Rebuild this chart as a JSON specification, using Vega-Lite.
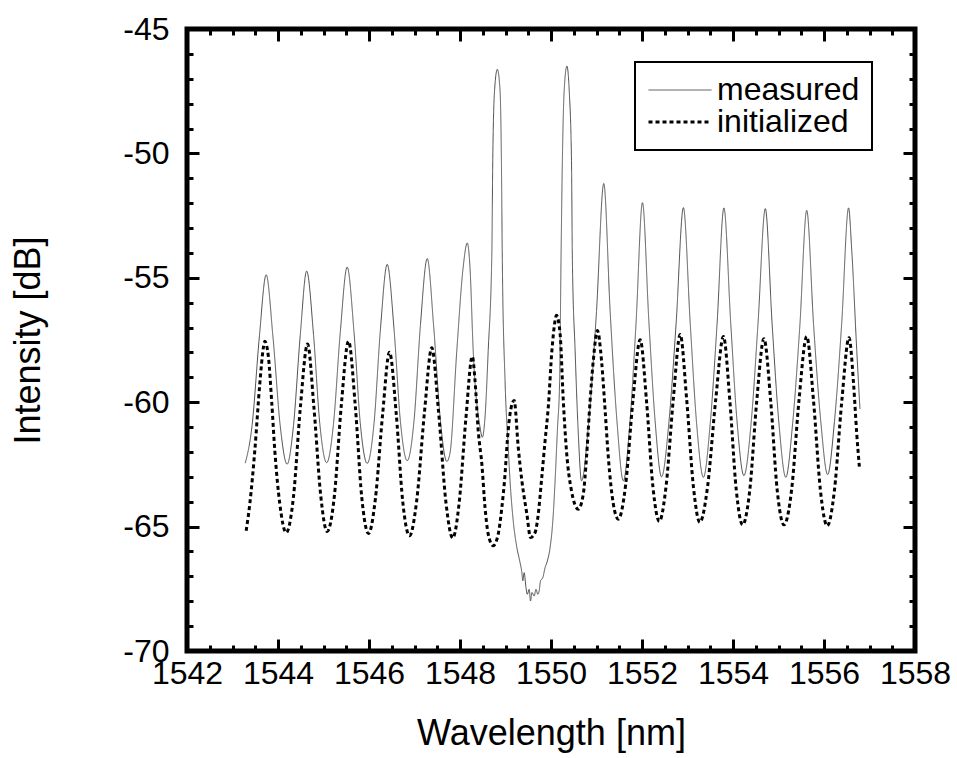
{
  "$schema": "https://vega.github.io/schema/vega-lite/v6.json",
  "width": 728,
  "height": 622,
  "autosize": {"type": "none"},
  "padding": {"left": 187, "top": 29, "right": 42, "bottom": 107},
  "background": "white",
  "datasets": {
    "m": [
      {"s":"measured","x":1543.28,"y":-62.45},{"s":"measured","x":1543.43,"y":-60.94},{"s":"measured","x":1543.59,"y":-57.38},{"s":"measured","x":1543.74,"y":-54.88},
      {"s":"measured","x":1543.89,"y":-57.39},{"s":"measured","x":1544.05,"y":-60.97},{"s":"measured","x":1544.20,"y":-62.49},{"s":"measured","x":1544.34,"y":-60.94},
      {"s":"measured","x":1544.49,"y":-57.29},{"s":"measured","x":1544.63,"y":-54.73},{"s":"measured","x":1544.78,"y":-57.27},{"s":"measured","x":1544.92,"y":-60.89},
      {"s":"measured","x":1545.07,"y":-62.43},{"s":"measured","x":1545.22,"y":-60.86},{"s":"measured","x":1545.37,"y":-57.16},{"s":"measured","x":1545.52,"y":-54.57},
      {"s":"measured","x":1545.67,"y":-57.17},{"s":"measured","x":1545.81,"y":-60.88},{"s":"measured","x":1545.96,"y":-62.46},{"s":"measured","x":1546.11,"y":-60.86},
      {"s":"measured","x":1546.25,"y":-57.10},{"s":"measured","x":1546.40,"y":-54.46},{"s":"measured","x":1546.55,"y":-57.06},{"s":"measured","x":1546.69,"y":-60.77},
      {"s":"measured","x":1546.84,"y":-62.35},{"s":"measured","x":1546.99,"y":-60.73},{"s":"measured","x":1547.13,"y":-56.91},{"s":"measured","x":1547.28,"y":-54.23},
      {"s":"measured","x":1547.42,"y":-56.92},{"s":"measured","x":1547.57,"y":-60.75},{"s":"measured","x":1547.71,"y":-62.38},{"s":"measured","x":1547.78,"y":-62.05},
      {"s":"measured","x":1547.93,"y":-57.92},{"s":"measured","x":1548.07,"y":-54.57},{"s":"measured","x":1548.16,"y":-53.6},{"s":"measured","x":1548.22,"y":-54.6},
      {"s":"measured","x":1548.29,"y":-57.92},{"s":"measured","x":1548.44,"y":-61.0},{"s":"measured","x":1548.49,"y":-61.41},{"s":"measured","x":1548.55,"y":-60.6},
      {"s":"measured","x":1548.62,"y":-57.92},{"s":"measured","x":1548.70,"y":-54.0},{"s":"measured","x":1548.72,"y":-50.27},{"s":"measured","x":1548.76,"y":-47.46},
      {"s":"measured","x":1548.82,"y":-46.62},{"s":"measured","x":1548.88,"y":-47.46},{"s":"measured","x":1548.91,"y":-50.27},{"s":"measured","x":1548.93,"y":-54.3},
      {"s":"measured","x":1548.99,"y":-59.13},{"s":"measured","x":1549.06,"y":-61.82},{"s":"measured","x":1549.10,"y":-63.16},{"s":"measured","x":1549.17,"y":-64.77},
      {"s":"measured","x":1549.25,"y":-65.84},{"s":"measured","x":1549.32,"y":-66.45},{"s":"measured","x":1549.36,"y":-66.85},{"s":"measured","x":1549.38,"y":-67.18},
      {"s":"measured","x":1549.41,"y":-66.85},{"s":"measured","x":1549.45,"y":-67.45},{"s":"measured","x":1549.48,"y":-67.72},{"s":"measured","x":1549.52,"y":-67.52},
      {"s":"measured","x":1549.55,"y":-67.99},{"s":"measured","x":1549.58,"y":-67.65},{"s":"measured","x":1549.63,"y":-67.79},{"s":"measured","x":1549.67,"y":-67.52},
      {"s":"measured","x":1549.71,"y":-67.72},{"s":"measured","x":1549.74,"y":-67.58},{"s":"measured","x":1549.77,"y":-67.18},{"s":"measured","x":1549.82,"y":-67.05},
      {"s":"measured","x":1549.87,"y":-66.65},{"s":"measured","x":1549.92,"y":-66.38},{"s":"measured","x":1549.98,"y":-65.84},{"s":"measured","x":1550.04,"y":-64.77},
      {"s":"measured","x":1550.09,"y":-63.16},{"s":"measured","x":1550.14,"y":-61.14},{"s":"measured","x":1550.19,"y":-59.13},{"s":"measured","x":1550.22,"y":-54.3},
      {"s":"measured","x":1550.25,"y":-50.27},{"s":"measured","x":1550.29,"y":-47.46},{"s":"measured","x":1550.35,"y":-46.49},{"s":"measured","x":1550.40,"y":-47.46},
      {"s":"measured","x":1550.45,"y":-50.27},{"s":"measured","x":1550.47,"y":-54.3},{"s":"measured","x":1550.53,"y":-57.92},{"s":"measured","x":1550.60,"y":-61.26},
      {"s":"measured","x":1550.67,"y":-63.16},{"s":"measured","x":1550.83,"y":-60.77},{"s":"measured","x":1551.00,"y":-56.35},{"s":"measured","x":1551.16,"y":-51.21},
      {"s":"measured","x":1551.30,"y":-56.35},{"s":"measured","x":1551.45,"y":-60.77},{"s":"measured","x":1551.59,"y":-63.16},{"s":"measured","x":1551.73,"y":-60.92},
      {"s":"measured","x":1551.87,"y":-56.79},{"s":"measured","x":1552.01,"y":-51.98},{"s":"measured","x":1552.15,"y":-56.72},{"s":"measured","x":1552.29,"y":-60.80},
      {"s":"measured","x":1552.43,"y":-63.0},{"s":"measured","x":1552.59,"y":-60.84},{"s":"measured","x":1552.75,"y":-56.83},{"s":"measured","x":1552.91,"y":-52.18},
      {"s":"measured","x":1553.06,"y":-56.84},{"s":"measured","x":1553.20,"y":-60.85},{"s":"measured","x":1553.35,"y":-63.02},{"s":"measured","x":1553.50,"y":-60.85},
      {"s":"measured","x":1553.65,"y":-56.85},{"s":"measured","x":1553.80,"y":-52.19},{"s":"measured","x":1553.95,"y":-56.82},{"s":"measured","x":1554.09,"y":-60.80},
      {"s":"measured","x":1554.24,"y":-62.95},{"s":"measured","x":1554.40,"y":-60.80},{"s":"measured","x":1554.55,"y":-56.83},{"s":"measured","x":1554.71,"y":-52.22},
      {"s":"measured","x":1554.86,"y":-56.86},{"s":"measured","x":1555.01,"y":-60.86},{"s":"measured","x":1555.16,"y":-63.02},{"s":"measured","x":1555.31,"y":-60.87},
      {"s":"measured","x":1555.47,"y":-56.90},{"s":"measured","x":1555.62,"y":-52.29},{"s":"measured","x":1555.77,"y":-56.86},{"s":"measured","x":1555.93,"y":-60.79},
      {"s":"measured","x":1556.08,"y":-62.91},{"s":"measured","x":1556.23,"y":-60.77},{"s":"measured","x":1556.39,"y":-56.80},{"s":"measured","x":1556.54,"y":-52.19},
      {"s":"measured","x":1556.61,"y":-53.9},{"s":"measured","x":1556.72,"y":-57.92},{"s":"measured","x":1556.79,"y":-60.27}
    ],
    "i": [
      {"s":"initialized","x":1543.30,"y":-65.17},{"s":"initialized","x":1543.38,"y":-64.09},{"s":"initialized","x":1543.49,"y":-61.95},{"s":"initialized","x":1543.60,"y":-59.26},
      {"s":"initialized","x":1543.68,"y":-57.79},{"s":"initialized","x":1543.71,"y":-57.55},{"s":"initialized","x":1543.79,"y":-58.19},{"s":"initialized","x":1543.86,"y":-59.94},
      {"s":"initialized","x":1543.93,"y":-61.95},{"s":"initialized","x":1544.04,"y":-64.09},{"s":"initialized","x":1544.18,"y":-65.24},{"s":"initialized","x":1544.34,"y":-63.80},
      {"s":"initialized","x":1544.49,"y":-60.24},{"s":"initialized","x":1544.65,"y":-57.66},{"s":"initialized","x":1544.79,"y":-60.22},{"s":"initialized","x":1544.94,"y":-63.77},
      {"s":"initialized","x":1545.08,"y":-65.20},{"s":"initialized","x":1545.24,"y":-63.75},{"s":"initialized","x":1545.39,"y":-60.15},{"s":"initialized","x":1545.55,"y":-57.55},
      {"s":"initialized","x":1545.70,"y":-60.18},{"s":"initialized","x":1545.84,"y":-63.81},{"s":"initialized","x":1545.99,"y":-65.28},{"s":"initialized","x":1546.14,"y":-63.89},
      {"s":"initialized","x":1546.30,"y":-60.47},{"s":"initialized","x":1546.45,"y":-57.99},{"s":"initialized","x":1546.60,"y":-60.50},{"s":"initialized","x":1546.74,"y":-63.97},
      {"s":"initialized","x":1546.89,"y":-65.37},{"s":"initialized","x":1547.05,"y":-63.93},{"s":"initialized","x":1547.22,"y":-60.38},{"s":"initialized","x":1547.38,"y":-57.81},
      {"s":"initialized","x":1547.53,"y":-60.41},{"s":"initialized","x":1547.69,"y":-64.01},{"s":"initialized","x":1547.84,"y":-65.46},{"s":"initialized","x":1547.98,"y":-64.07},
      {"s":"initialized","x":1548.13,"y":-60.64},{"s":"initialized","x":1548.27,"y":-58.16},{"s":"initialized","x":1548.33,"y":-59.13},{"s":"initialized","x":1548.40,"y":-61.14},
      {"s":"initialized","x":1548.48,"y":-62.48},{"s":"initialized","x":1548.55,"y":-64.23},{"s":"initialized","x":1548.62,"y":-65.30},{"s":"initialized","x":1548.73,"y":-65.77},
      {"s":"initialized","x":1548.84,"y":-65.30},{"s":"initialized","x":1548.92,"y":-64.23},{"s":"initialized","x":1548.99,"y":-62.89},{"s":"initialized","x":1549.04,"y":-61.55},
      {"s":"initialized","x":1549.10,"y":-60.47},{"s":"initialized","x":1549.19,"y":-59.93},{"s":"initialized","x":1549.28,"y":-61.82},{"s":"initialized","x":1549.36,"y":-63.16},
      {"s":"initialized","x":1549.47,"y":-64.50},{"s":"initialized","x":1549.55,"y":-65.44},{"s":"initialized","x":1549.65,"y":-65.24},{"s":"initialized","x":1549.72,"y":-64.50},
      {"s":"initialized","x":1549.79,"y":-63.16},{"s":"initialized","x":1549.87,"y":-61.55},{"s":"initialized","x":1549.94,"y":-60.2},{"s":"initialized","x":1550.02,"y":-57.92},
      {"s":"initialized","x":1550.09,"y":-56.72},{"s":"initialized","x":1550.12,"y":-56.51},{"s":"initialized","x":1550.20,"y":-57.25},{"s":"initialized","x":1550.27,"y":-59.93},
      {"s":"initialized","x":1550.34,"y":-61.95},{"s":"initialized","x":1550.45,"y":-63.56},{"s":"initialized","x":1550.60,"y":-64.30},{"s":"initialized","x":1550.71,"y":-63.69},
      {"s":"initialized","x":1550.78,"y":-62.22},{"s":"initialized","x":1550.86,"y":-59.93},{"s":"initialized","x":1550.93,"y":-58.32},{"s":"initialized","x":1551.02,"y":-57.12},
      {"s":"initialized","x":1551.11,"y":-58.32},{"s":"initialized","x":1551.19,"y":-60.34},{"s":"initialized","x":1551.26,"y":-62.22},{"s":"initialized","x":1551.37,"y":-64.09},
      {"s":"initialized","x":1551.48,"y":-64.70},{"s":"initialized","x":1551.64,"y":-63.33},{"s":"initialized","x":1551.80,"y":-59.94},{"s":"initialized","x":1551.96,"y":-57.49},
      {"s":"initialized","x":1552.10,"y":-59.97},{"s":"initialized","x":1552.24,"y":-63.40},{"s":"initialized","x":1552.38,"y":-64.79},{"s":"initialized","x":1552.53,"y":-63.36},
      {"s":"initialized","x":1552.69,"y":-59.83},{"s":"initialized","x":1552.84,"y":-57.28},{"s":"initialized","x":1552.98,"y":-59.85},{"s":"initialized","x":1553.13,"y":-63.40},
      {"s":"initialized","x":1553.27,"y":-64.83},{"s":"initialized","x":1553.44,"y":-63.41},{"s":"initialized","x":1553.62,"y":-59.90},{"s":"initialized","x":1553.79,"y":-57.36},
      {"s":"initialized","x":1553.93,"y":-59.93},{"s":"initialized","x":1554.07,"y":-63.49},{"s":"initialized","x":1554.21,"y":-64.93},{"s":"initialized","x":1554.37,"y":-63.51},
      {"s":"initialized","x":1554.52,"y":-59.99},{"s":"initialized","x":1554.68,"y":-57.45},{"s":"initialized","x":1554.83,"y":-59.99},{"s":"initialized","x":1554.97,"y":-63.51},
      {"s":"initialized","x":1555.12,"y":-64.93},{"s":"initialized","x":1555.29,"y":-63.49},{"s":"initialized","x":1555.45,"y":-59.93},{"s":"initialized","x":1555.62,"y":-57.36},
      {"s":"initialized","x":1555.77,"y":-59.95},{"s":"initialized","x":1555.92,"y":-63.52},{"s":"initialized","x":1556.07,"y":-64.97},{"s":"initialized","x":1556.23,"y":-63.53},
      {"s":"initialized","x":1556.39,"y":-59.98},{"s":"initialized","x":1556.55,"y":-57.41},{"s":"initialized","x":1556.65,"y":-59.26},{"s":"initialized","x":1556.72,"y":-61.28},
      {"s":"initialized","x":1556.78,"y":-62.65}
    ]
  },
  "encoding": {
    "color": {
      "field": "s", "type": "nominal",
      "scale": {"domain": ["measured", "initialized"], "range": ["#505050", "#000000"]},
      "legend": {
        "orient": "none", "legendX": 448, "legendY": 33, "title": null,
        "symbolType": "stroke", "symbolSize": 3969, "symbolOffset": 17, "labelOffset": 21,
        "labelFont": "Liberation Sans", "labelFontSize": 32, "labelColor": "black", "labelLimit": 0,
        "padding": 12, "rowPadding": -10, "strokeColor": "black", "fillColor": "white",
        "encode": {
          "legend": {"update": {"strokeWidth": {"value": 2}}},
          "symbols": {"update": {"strokeWidth": {"signal": "datum.value === 'initialized' ? 3 : 1"}, "stroke": {"value": "black"}}}
        }
      }
    },
    "strokeDash": {
      "field": "s", "type": "nominal",
      "scale": {"domain": ["measured", "initialized"], "range": [[1, 0], [4, 3]]}
    }
  },
  "layer": [
    {
      "data": {"name": "m"},
      "mark": {"type": "line", "interpolate": "monotone", "strokeWidth": 1},
      "encoding": {
        "x": {
          "field": "x", "type": "quantitative",
          "scale": {"domain": [1542, 1558], "nice": false, "zero": false},
          "axis": {
            "orient": "bottom", "title": "Wavelength [nm]",
            "values": [1542,1544,1546,1548,1550,1552,1554,1556,1558],
            "format": "d", "labelExpr": "toString(datum.value)",
            "offset": -12, "tickSize": 12,
            "labelPadding": 7, "titlePadding": 27, "labelOverlap": false, "labelFlush": false, "labelBound": false
          }
        },
        "y": {
          "field": "y", "type": "quantitative",
          "scale": {"domain": [-70, -45], "nice": false, "zero": false},
          "axis": {
            "orient": "left", "title": "Intensity [dB]",
            "values": [-70,-65,-60,-55,-50,-45],
            "labelExpr": "toString(datum.value)",
            "offset": -12, "tickSize": 12,
            "labelPadding": 18, "titlePadding": 75, "labelOverlap": false, "labelFlush": false, "labelBound": false
          }
        }
      }
    },
    {
      "data": {"name": "i"},
      "mark": {"type": "line", "interpolate": "monotone", "strokeWidth": 3, "strokeCap": "butt"},
      "encoding": {
        "x": {
          "field": "x", "type": "quantitative",
          "scale": {"domain": [1542, 1558], "nice": false, "zero": false},
          "axis": {
            "orient": "top", "title": null, "labels": false,
            "values": [1542,1544,1546,1548,1550,1552,1554,1556,1558],
            "offset": -12, "tickSize": 12
          }
        },
        "y": {
          "field": "y", "type": "quantitative",
          "scale": {"domain": [-70, -45], "nice": false, "zero": false},
          "axis": {
            "orient": "right", "title": null, "labels": false,
            "values": [-70,-65,-60,-55,-50,-45],
            "offset": -12, "tickSize": 12
          }
        }
      }
    },
    {
      "data": {"name": "m"},
      "mark": {"type": "line", "opacity": 0},
      "encoding": {
        "x": {
          "field": "x", "type": "quantitative",
          "scale": {"domain": [1542, 1558], "nice": false, "zero": false},
          "axis": {
            "orient": "bottom", "title": null, "labels": false,
            "values": [1542.5,1543,1543.5,1544.5,1545,1545.5,1546.5,1547,1547.5,1548.5,1549,1549.5,1550.5,1551,1551.5,1552.5,1553,1553.5,1554.5,1555,1555.5,1556.5,1557,1557.5],
            "offset": -6, "tickSize": 6
          }
        },
        "y": {
          "field": "y", "type": "quantitative",
          "scale": {"domain": [-70, -45], "nice": false, "zero": false},
          "axis": {
            "orient": "left", "title": null, "labels": false,
            "values": [-69,-68,-67,-66,-64,-63,-62,-61,-59,-58,-57,-56,-54,-53,-52,-51,-49,-48,-47,-46],
            "offset": -6, "tickSize": 6
          }
        }
      }
    },
    {
      "data": {"name": "m"},
      "mark": {"type": "line", "opacity": 0},
      "encoding": {
        "x": {
          "field": "x", "type": "quantitative",
          "scale": {"domain": [1542, 1558], "nice": false, "zero": false},
          "axis": {
            "orient": "top", "title": null, "labels": false,
            "values": [1542.5,1543,1543.5,1544.5,1545,1545.5,1546.5,1547,1547.5,1548.5,1549,1549.5,1550.5,1551,1551.5,1552.5,1553,1553.5,1554.5,1555,1555.5,1556.5,1557,1557.5],
            "offset": -6, "tickSize": 6
          }
        },
        "y": {
          "field": "y", "type": "quantitative",
          "scale": {"domain": [-70, -45], "nice": false, "zero": false},
          "axis": {
            "orient": "right", "title": null, "labels": false,
            "values": [-69,-68,-67,-66,-64,-63,-62,-61,-59,-58,-57,-56,-54,-53,-52,-51,-49,-48,-47,-46],
            "offset": -6, "tickSize": 6
          }
        }
      }
    }
  ],
  "resolve": {"axis": {"x": "independent", "y": "independent"}},
  "config": {
    "view": {"stroke": "black", "strokeWidth": 5},
    "axis": {
      "domain": false, "grid": false, "ticks": true,
      "tickColor": "black", "tickWidth": 3,
      "labelFont": "Liberation Sans", "labelFontSize": 32, "labelColor": "black",
      "titleFont": "Liberation Sans", "titleFontSize": 36, "titleFontWeight": "normal", "titleColor": "black"
    }
  }
}
